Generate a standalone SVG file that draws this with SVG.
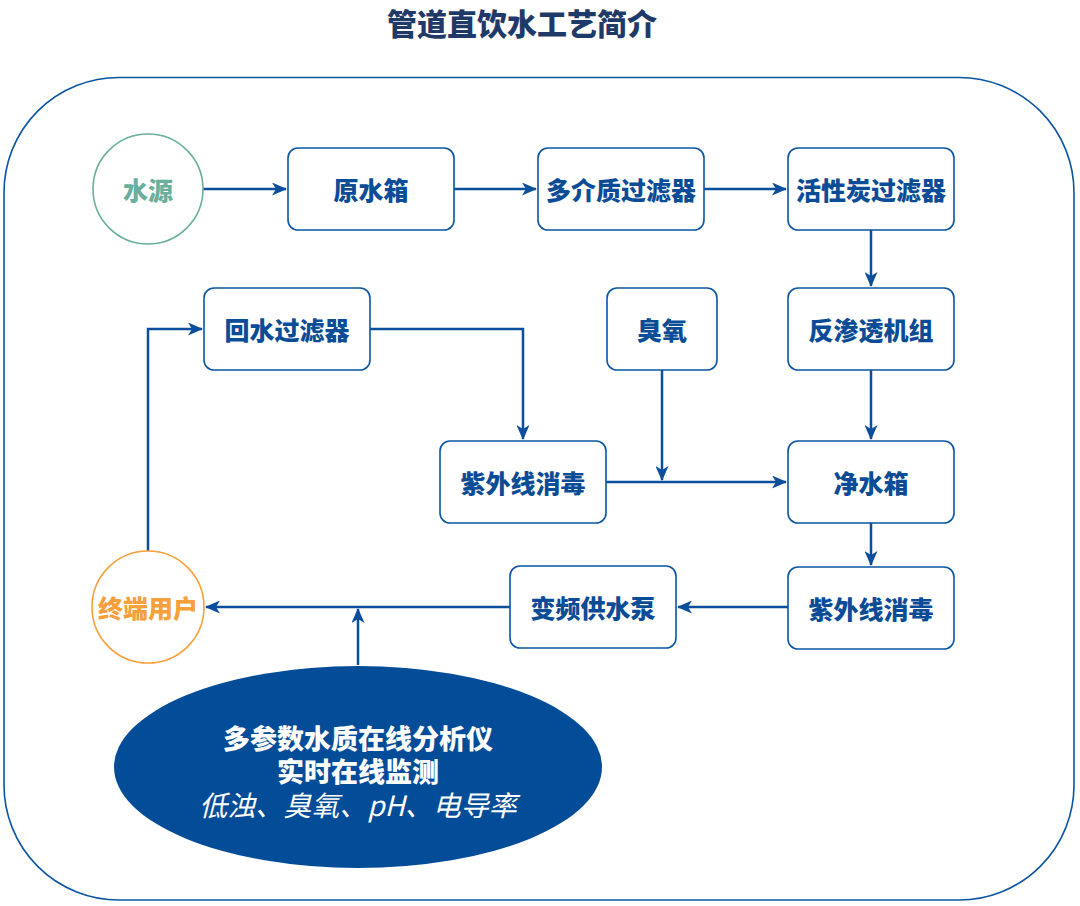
<svg xmlns="http://www.w3.org/2000/svg" width="1080" height="906" viewBox="0 0 1080 906">
<defs>
<style>
.box{fill:#fff;stroke:#0B55A3;stroke-width:1.6}
.t{font-family:"Noto Sans CJK SC","Noto Sans",sans-serif;font-weight:900;font-size:25px;fill:#0B4C96;text-anchor:middle;dominant-baseline:central}
.c{fill:none;stroke:#0B4F9C;stroke-width:2.5}
</style>
<marker id="ah" viewBox="0 0 15 13" refX="14" refY="6.5" markerWidth="15" markerHeight="13" markerUnits="userSpaceOnUse" orient="auto">
<path d="M0,0 L15,6.5 L0,13 L4,6.5 Z" fill="#0B4F9C"/>
</marker>
</defs>
<rect width="1080" height="906" fill="#fff"/>
<text x="522" y="22" style="font-family:'Noto Sans CJK SC',sans-serif;font-weight:900;font-size:30px;fill:#1F3A68;text-anchor:middle;dominant-baseline:central">管道直饮水工艺简介</text>
<rect id="frame" x="4" y="77.5" width="1070" height="822.5" rx="115" ry="115" fill="none" stroke="#0B55A3" stroke-width="1.6"/>

<g id="connectors">
<path class="c" d="M203,189 H286" marker-end="url(#ah)"/>
<path class="c" d="M454,189 H536" marker-end="url(#ah)"/>
<path class="c" d="M704,189 H786" marker-end="url(#ah)"/>
<path class="c" d="M871,230 V286" marker-end="url(#ah)"/>
<path class="c" d="M871,370 V439" marker-end="url(#ah)"/>
<path class="c" d="M871,523 V565" marker-end="url(#ah)"/>
<path class="c" d="M788,607 H678" marker-end="url(#ah)"/>
<path class="c" d="M510,607 H206" marker-end="url(#ah)"/>
<path class="c" d="M358,665 V609" marker-end="url(#ah)"/>
<path class="c" d="M148,551 V329 H202" marker-end="url(#ah)"/>
<path class="c" d="M370,329 H523 V439" marker-end="url(#ah)"/>
<path class="c" d="M606,482 H786" marker-end="url(#ah)"/>
<path class="c" d="M662,370 V480" marker-end="url(#ah)"/>
</g>

<g id="n-source"><circle cx="148" cy="189" r="55" fill="#fff" stroke="#6AAE9C" stroke-width="1.6"/><text class="t" x="148" y="189" style="fill:#6AAE9C">水源</text></g>
<g id="n-raw"><rect class="box" x="288" y="148" width="166" height="82" rx="10"/><text class="t" x="371" y="189">原水箱</text></g>
<g id="n-multi"><rect class="box" x="538" y="148" width="166" height="82" rx="10"/><text class="t" x="621" y="189">多介质过滤器</text></g>
<g id="n-carbon"><rect class="box" x="788" y="148" width="166" height="82" rx="10"/><text class="t" x="871" y="189">活性炭过滤器</text></g>
<g id="n-ro"><rect class="box" x="788" y="288" width="166" height="82" rx="10"/><text class="t" x="871" y="329">反渗透机组</text></g>
<g id="n-ozone"><rect class="box" x="607" y="288" width="110" height="82" rx="10"/><text class="t" x="662" y="329">臭氧</text></g>
<g id="n-return"><rect class="box" x="204" y="288" width="166" height="82" rx="10"/><text class="t" x="287" y="329">回水过滤器</text></g>
<g id="n-uv1"><rect class="box" x="440" y="441" width="166" height="82" rx="10"/><text class="t" x="523" y="482">紫外线消毒</text></g>
<g id="n-clean"><rect class="box" x="788" y="441" width="166" height="82" rx="10"/><text class="t" x="871" y="482">净水箱</text></g>
<g id="n-uv2"><rect class="box" x="788" y="567" width="166" height="82" rx="10"/><text class="t" x="871" y="608">紫外线消毒</text></g>
<g id="n-pump"><rect class="box" x="510" y="566" width="166" height="82" rx="10"/><text class="t" x="593" y="607">变频供水泵</text></g>
<g id="n-user"><ellipse cx="148" cy="607" rx="56" ry="56" fill="#fff" stroke="#F7A03C" stroke-width="1.6"/><text class="t" x="148" y="607" style="fill:#F7A03C">终端用户</text></g>
<g id="n-monitor"><ellipse cx="358" cy="767" rx="244" ry="101" fill="#034C98"/>
<text class="t" x="358" y="737" style="fill:#fff;font-size:27px">多参数水质在线分析仪</text>
<text class="t" x="358" y="770" style="fill:#fff;font-size:27px">实时在线监测</text>
<text class="t" x="358" y="804" style="fill:#fff;font-size:28px;font-weight:normal;font-style:italic">低浊、臭氧、pH、电导率</text>
</g>
</svg>
